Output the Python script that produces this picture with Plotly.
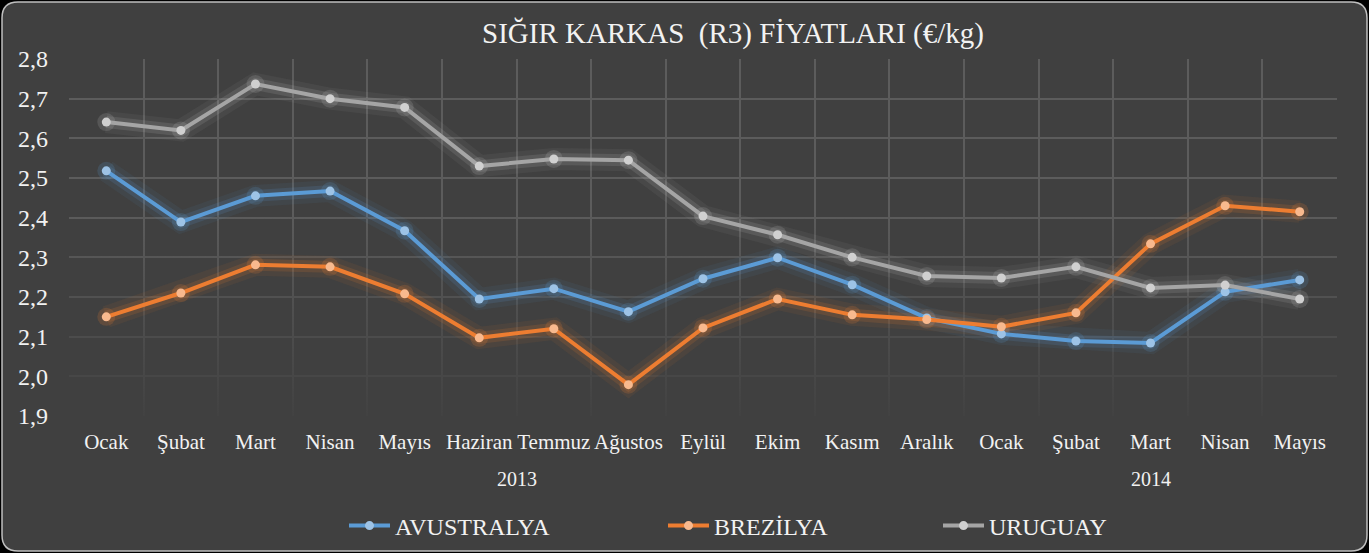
import plotly.graph_objects as go

months = ["Ocak", "Şubat", "Mart", "Nisan", "Mayıs", "Haziran", "Temmuz", "Ağustos",
          "Eylül", "Ekim", "Kasım", "Aralık", "Ocak", "Şubat", "Mart", "Nisan", "Mayıs"]
years = ["2013"] * 12 + ["2014"] * 5

avustralya = [2.518, 2.389, 2.455, 2.467, 2.367, 2.195, 2.221, 2.163, 2.246, 2.299,
              2.231, 2.147, 2.107, 2.089, 2.084, 2.213, 2.243]
brezilya = [2.150, 2.210, 2.281, 2.276, 2.208, 2.097, 2.120, 1.979, 2.122, 2.195,
            2.155, 2.143, 2.125, 2.160, 2.334, 2.430, 2.415]
uruguay = [2.641, 2.620, 2.737, 2.700, 2.678, 2.530, 2.548, 2.545, 2.404, 2.357,
           2.300, 2.253, 2.248, 2.276, 2.223, 2.230, 2.195]

series = [
    ("AVUSTRALYA", avustralya, "#5b9bd5", "#9dc3e6", (91, 155, 213), "legend"),
    ("BREZİLYA", brezilya, "#ed7d31", "#f8b98e", (237, 125, 49), "legend2"),
    ("URUGUAY", uruguay, "#a5a5a5", "#d0d0d0", (190, 190, 190), "legend3"),
]

title_text = "SIĞIR KARKAS \u00a0(R3) FİYATLARI (€/kg)"
Y_MIN, Y_MAX = 1.9, 2.8
BG = "#404040"
GRID = "#5c5c5c"
FONT = "Liberation Serif"
TXT = "#f2f2f2"

W, H = 1369, 553
ML, MR, MT, MB = 69, 32, 59, 137
PW, PH = W - ML - MR, H - MT - MB

x = list(range(len(months)))
X_MIN, X_MAX = -0.5, len(months) - 0.5

fig = go.Figure()

# fade of the grid towards the bottom of the plot area
fig.add_trace(go.Scatter(
    x=[X_MIN, X_MAX, X_MAX, X_MIN, X_MIN],
    y=[Y_MIN, Y_MIN, 2.42, 2.42, Y_MIN],
    mode="lines", line=dict(width=0), fill="toself",
    fillgradient=dict(type="vertical",
                      colorscale=[[0, "rgba(64,64,64,0.93)"], [1, "rgba(64,64,64,0)"]]),
    showlegend=False, hoverinfo="skip"))

# glow
for name, vals, col, mcol, rgb, lg in series:
    r, g, b = rgb
    fig.add_trace(go.Scatter(x=x, y=vals, mode="lines",
                             line=dict(color=f"rgba({r},{g},{b},0.07)", width=22),
                             showlegend=False, hoverinfo="skip"))
    fig.add_trace(go.Scatter(x=x, y=vals, mode="lines+markers",
                             line=dict(color=f"rgba({r},{g},{b},0.15)", width=12),
                             marker=dict(size=18, color=f"rgba({r},{g},{b},0.18)"),
                             showlegend=False, hoverinfo="skip"))

for name, vals, col, mcol, rgb, lg in series:
    fig.add_trace(go.Scatter(x=x, y=vals, name=name, mode="lines+markers",
                             line=dict(color=col, width=4),
                             marker=dict(size=9, color=mcol),
                             legend=lg))

# year labels
groups = {}
for i, yv in enumerate(years):
    groups.setdefault(yv, []).append(i)
for yv, idx in groups.items():
    fig.add_annotation(x=(idx[0] + idx[-1]) / 2, y=(MT + PH - 479) / PH, yref="paper",
                       text=yv, showarrow=False, font=dict(family=FONT, size=20, color=TXT),
                       yanchor="middle")

# rounded background
rx, ry = 16 / PW, 16 / PH
x0, x1 = (2 - ML) / PW, (W - 2 - ML) / PW
y0, y1 = (MT + PH - (H - 2)) / PH, (MT + PH - 2) / PH
path = (f"M{x0+rx},{y0} L{x1-rx},{y0} Q{x1},{y0} {x1},{y0+ry} L{x1},{y1-ry} "
        f"Q{x1},{y1} {x1-rx},{y1} L{x0+rx},{y1} Q{x0},{y1} {x0},{y1-ry} "
        f"L{x0},{y0+ry} Q{x0},{y0} {x0+rx},{y0} Z")
fig.add_shape(type="path", path=path, xref="paper", yref="paper",
              fillcolor=BG, line=dict(color="#bfbfbf", width=1.5), layer="below")

leg_common = dict(orientation="h", yanchor="middle", xanchor="left",
                  y=(MT + PH - 526) / PH, bgcolor="rgba(0,0,0,0)", itemwidth=41,
                  font=dict(family=FONT, size=24, color=TXT))

fig.update_layout(
    width=W, height=H,
    margin=dict(l=ML, r=MR, t=MT, b=MB, autoexpand=False),
    paper_bgcolor="black", plot_bgcolor="rgba(0,0,0,0)",
    separators=",.",
    title=dict(text=title_text, x=733 / W, xanchor="center", y=1 - 33 / H, yanchor="middle",
               xref="container", font=dict(family=FONT, size=29, color=TXT)),
    font=dict(family=FONT, color=TXT),
    legend=dict(leg_common, x=(344 - ML) / PW),
    legend2=dict(leg_common, x=(663 - ML) / PW),
    legend3=dict(leg_common, x=(938 - ML) / PW),
    xaxis=dict(range=[X_MIN, X_MAX], tickmode="array", tickvals=x, ticktext=months,
               showgrid=False, zeroline=False, showline=False, ticks="",
               tickfont=dict(family=FONT, size=21, color=TXT), ticklabelstandoff=11,
               minor=dict(tickmode="array", tickvals=[i - 0.5 for i in range(len(months) + 1)],
                          showgrid=True, gridcolor=GRID, gridwidth=1.5, ticks="")),
    yaxis=dict(range=[Y_MIN, Y_MAX], dtick=0.1, tick0=Y_MIN, tickformat=".1f",
               showgrid=True, gridcolor=GRID, gridwidth=1.5, zeroline=False, showline=False,
               ticks="", tickfont=dict(family=FONT, size=24, color=TXT), ticklabelstandoff=20),
    hovermode=False,
)

fig.write_html("out.html")
